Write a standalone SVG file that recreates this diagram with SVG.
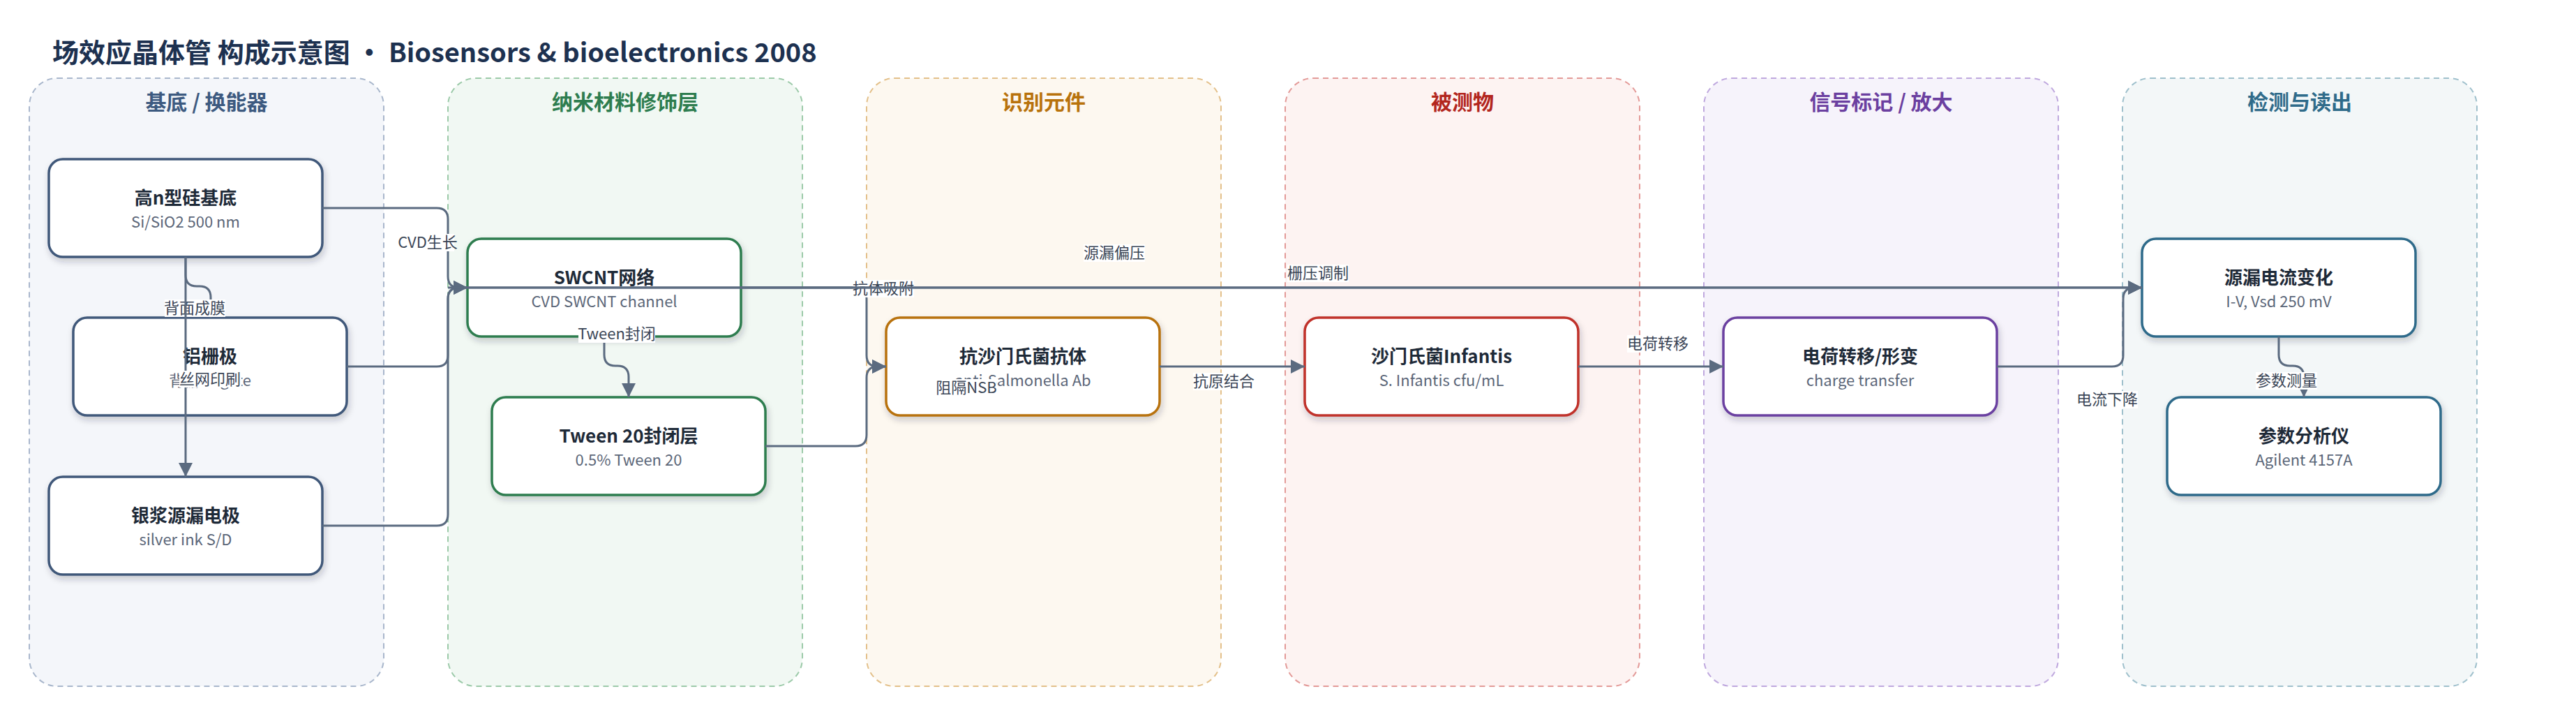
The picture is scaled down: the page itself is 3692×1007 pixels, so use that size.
<svg xmlns="http://www.w3.org/2000/svg" width="3692" height="1007" viewBox="0 0 3692 1007">
<defs>
<marker id="arr" markerUnits="userSpaceOnUse" markerWidth="20" markerHeight="20" refX="20" refY="10" orient="auto">
<path d="M0,0 L20,10 L0,20 z" fill="#5b6b80"/>
</marker>
<filter id="sh" x="-10%" y="-10%" width="125%" height="135%">
<feDropShadow dx="2" dy="5" stdDeviation="5" flood-color="#1e2a38" flood-opacity="0.22"/>
</filter>
<style>
text{font-family:"Noto Sans CJK SC","Noto Sans",sans-serif;}
.lane{stroke-width:2;stroke-dasharray:8 6;}
.lt{font-size:30px;font-weight:700;text-anchor:middle;}
.node{fill:#ffffff;stroke-width:3.5;filter:url(#sh);}
.nt{font-size:26px;font-weight:700;fill:#1e2a38;text-anchor:middle;}
.ns{font-size:22px;fill:#5b6678;text-anchor:middle;}
.e{fill:none;stroke:#5b6b80;stroke-width:3;}
.ea{fill:none;stroke:#5b6b80;stroke-width:3;marker-end:url(#arr);}
.lb{fill:#ffffff;}
.el{font-size:22px;fill:#3a4556;text-anchor:middle;}
</style>
</defs>
<rect x="0" y="0" width="3692" height="1007" fill="#ffffff"/>
<text x="75" y="89" font-size="38" font-weight="700" fill="#1d3150">场效应晶体管 构成示意图 • Biosensors &amp; bioelectronics 2008</text>

<g id="lanes">
<g id="lane-substrate"><rect class="lane" x="42" y="112" width="508" height="871" rx="40" fill="#f4f6fa" stroke="#a9b7cc"/><text class="lt" x="296" y="157" fill="#3d5a80">基底 / 换能器</text></g>
<g id="lane-nano"><rect class="lane" x="642" y="112" width="508" height="871" rx="40" fill="#f1f8f3" stroke="#9ccaa9"/><text class="lt" x="896" y="157" fill="#2e7d4f">纳米材料修饰层</text></g>
<g id="lane-recog"><rect class="lane" x="1242" y="112" width="508" height="871" rx="40" fill="#fdf8f0" stroke="#e3c08a"/><text class="lt" x="1496" y="157" fill="#b8720c">识别元件</text></g>
<g id="lane-analyte"><rect class="lane" x="1842" y="112" width="508" height="871" rx="40" fill="#fdf3f2" stroke="#e39a98"/><text class="lt" x="2096" y="157" fill="#b3261e">被测物</text></g>
<g id="lane-signal"><rect class="lane" x="2442" y="112" width="508" height="871" rx="40" fill="#f6f3fb" stroke="#bfa8de"/><text class="lt" x="2696" y="157" fill="#6b3fa0">信号标记 / 放大</text></g>
<g id="lane-readout"><rect class="lane" x="3042" y="112" width="508" height="871" rx="40" fill="#f3f7f8" stroke="#9fc0cc"/><text class="lt" x="3296" y="157" fill="#2f6b8a">检测与读出</text></g>
</g>

<g id="n-si"><rect class="node" x="70" y="228" width="392" height="140" rx="20" stroke="#41597a"/><text class="nt" x="266" y="293">高n型硅基底</text><text class="ns" x="266" y="326">Si/SiO2 500 nm</text></g>
<g id="n-gate"><rect class="node" x="105" y="455" width="392" height="140" rx="20" stroke="#41597a"/><text class="nt" x="301" y="520">铝栅极</text><text class="ns" x="301" y="553">背栅 Al gate</text></g>
<g id="n-sd"><rect class="node" x="70" y="683" width="392" height="140" rx="20" stroke="#41597a"/><text class="nt" x="266" y="748">银浆源漏电极</text><text class="ns" x="266" y="781">silver ink S/D</text></g>
<g id="n-swcnt"><rect class="node" x="670" y="342" width="392" height="140" rx="20" stroke="#2e7d4f"/><text class="nt" x="866" y="407">SWCNT网络</text><text class="ns" x="866" y="440">CVD SWCNT channel</text></g>
<g id="n-tween"><rect class="node" x="705" y="569" width="392" height="140" rx="20" stroke="#2e7d4f"/><text class="nt" x="901" y="634">Tween 20封闭层</text><text class="ns" x="901" y="667">0.5% Tween 20</text></g>
<g id="n-ab"><rect class="node" x="1270" y="455" width="392" height="140" rx="20" stroke="#b8720c"/><text class="nt" x="1466" y="520">抗沙门氏菌抗体</text><text class="ns" x="1466" y="553">anti-Salmonella Ab</text></g>
<g id="n-sal"><rect class="node" x="1870" y="455" width="392" height="140" rx="20" stroke="#c0302a"/><text class="nt" x="2066" y="520">沙门氏菌Infantis</text><text class="ns" x="2066" y="553">S. Infantis cfu/mL</text></g>
<g id="n-charge"><rect class="node" x="2470" y="455" width="392" height="140" rx="20" stroke="#6b3fa0"/><text class="nt" x="2666" y="520">电荷转移/形变</text><text class="ns" x="2666" y="553">charge transfer</text></g>
<g id="n-current"><rect class="node" x="3070" y="342" width="392" height="140" rx="20" stroke="#2f6b8a"/><text class="nt" x="3266" y="407">源漏电流变化</text><text class="ns" x="3266" y="440">I-V, Vsd 250 mV</text></g>
<g id="n-analyzer"><rect class="node" x="3106" y="569" width="392" height="140" rx="20" stroke="#2f6b8a"/><text class="nt" x="3302" y="634">参数分析仪</text><text class="ns" x="3302" y="667">Agilent 4157A</text></g>

<g id="connectors">
<path class="ea" d="M266,368 V394 Q266,410 282,410 H286 Q302,410 302,426 V455"/>
<rect class="lb" x="236" y="429" width="87" height="25"/><text class="el" x="279" y="449">背面成膜</text>
<path class="ea" d="M266,368 V683"/>
<rect class="lb" x="257" y="531" width="89" height="24"/><text class="el" x="301" y="551">丝网印刷</text>

<path class="ea" d="M462,298 H626 Q642,298 642,314 V396 Q642,412 658,412 H670"/>
<path class="ea" d="M497,525 H626 Q642,525 642,509 V428 Q642,412 658,412 H670"/>
<path class="ea" d="M462,753 H626 Q642,753 642,737 V428 Q642,412 658,412 H670"/>
<rect class="lb" x="576" y="335" width="75" height="25"/><text class="el" x="613" y="355">CVD生长</text>

<path class="ea" d="M866,482 V508 Q866,524 882,524 H885 Q901,524 901,540 V569"/>
<rect class="lb" x="829" y="466" width="110" height="25"/><text class="el" x="884" y="486">Tween封闭</text>

<path class="ea" d="M1097,639 H1226 Q1242,639 1242,623 V541 Q1242,525 1258,525 H1270"/>
<path class="ea" d="M1062,412 H1226 Q1242,412 1242,428 V509 Q1242,525 1258,525 H1270"/>
<rect class="lb" x="1222" y="401" width="88" height="25"/><text class="el" x="1266" y="421">抗体吸附</text>
<rect class="lb" x="1342" y="543" width="86" height="25"/><text class="el" x="1385" y="563">阻隔NSB</text>

<path class="ea" d="M642,412 H3070"/>
<path class="ea" d="M670,412 H3070"/>
<rect class="lb" x="1553" y="350" width="88" height="25"/><text class="el" x="1597" y="370">源漏偏压</text>
<rect class="lb" x="1845" y="379" width="88" height="25"/><text class="el" x="1889" y="399">栅压调制</text>

<path class="ea" d="M1662,525 H1870"/>
<rect class="lb" x="1710" y="534" width="88" height="25"/><text class="el" x="1754" y="554">抗原结合</text>

<path class="ea" d="M2262,525 H2470"/>
<rect class="lb" x="2332" y="480" width="88" height="25"/><text class="el" x="2376" y="500">电荷转移</text>

<path class="ea" d="M2862,525 H3027 Q3043,525 3043,509 V428 Q3043,412 3059,412 H3070"/>
<rect class="lb" x="2976" y="560" width="88" height="25"/><text class="el" x="3020" y="580">电流下降</text>

<path class="ea" d="M3266,482 V508 Q3266,524 3282,524 H3286 Q3302,524 3302,540 V569"/>
<rect class="lb" x="3233" y="533" width="88" height="25"/><text class="el" x="3277" y="553">参数测量</text>
</g>
</svg>
